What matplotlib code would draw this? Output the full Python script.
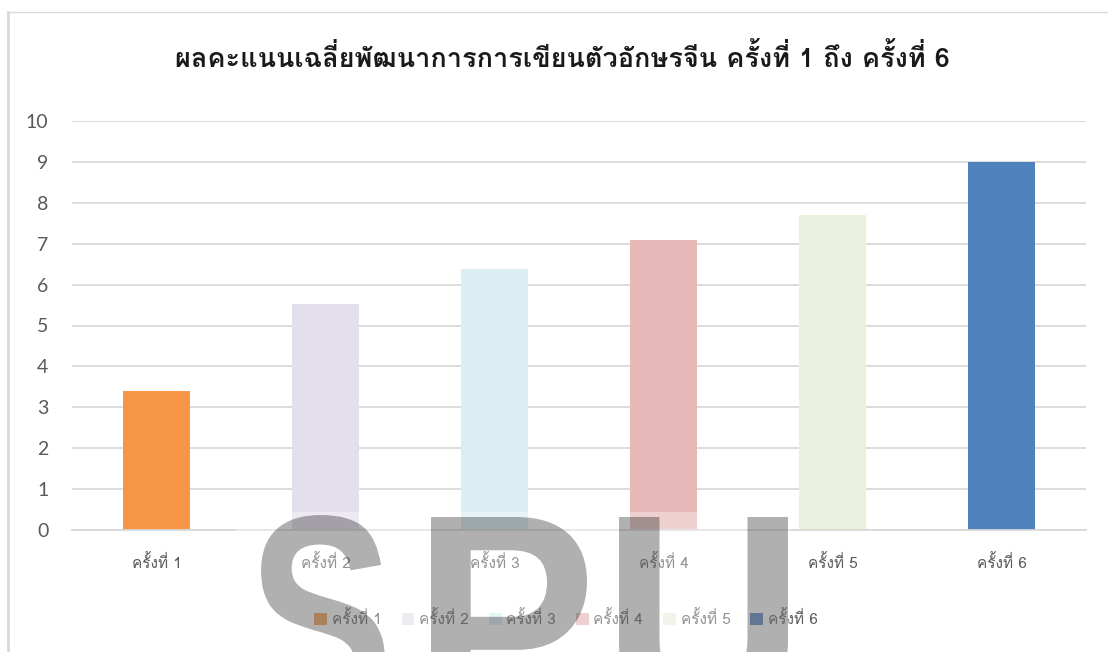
import matplotlib
matplotlib.use('Agg')
import matplotlib.pyplot as plt
from matplotlib.patches import Rectangle, PathPatch
from matplotlib.lines import Line2D
from matplotlib.textpath import TextPath
from matplotlib.font_manager import FontProperties
from matplotlib.transforms import Affine2D, IdentityTransform

title = 'ผลคะแนนเฉลี่ยพัฒนาการการเขียนตัวอักษรจีน ครั้งที่ 1 ถึง ครั้งที่ 6'
categories = ['ครั้งที่ 1', 'ครั้งที่ 2', 'ครั้งที่ 3', 'ครั้งที่ 4', 'ครั้งที่ 5', 'ครั้งที่ 6']
scores = [3.40, 5.53, 6.38, 7.09, 7.70, 9.00]
bar_colors = ['#f79646', '#e4dfec', '#daeef3', '#e6b8b7', '#ebf1de', '#4f81bd']
y_ticks = [0, 1, 2, 3, 4, 5, 6, 7, 8, 9, 10]
watermark = ['S', 'P', 'U']

W, H = 1108, 652
# watermark letter boxes in pixels (left, right, top) and common cap height
wm_boxes = [(254, 385, 515), (431, 587, 517), (619, 788, 517)]
wm_cap = 205

plt.rcParams['font.family'] = ['Loma', 'DejaVu Sans']

fig = plt.figure(figsize=(W / 100, H / 100), dpi=100)
ax = fig.add_axes([72 / W, 1 - 530 / H, (1086 - 72) / W, (530 - 121) / H])

for i, (cat, val, col) in enumerate(zip(categories, scores, bar_colors)):
    ax.bar(i, val, width=0.4, color=col, label=cat, zorder=2)

ax.set_xlim(-0.5, len(categories) - 0.5)
ax.set_ylim(0, 10)
ax.set_yticks(y_ticks)
ax.set_yticklabels([str(t) for t in y_ticks], family=['Lato', 'DejaVu Sans'],
                   fontsize=14, color='#595959')
ax.set_xticks(range(len(categories)))
ax.set_xticklabels(categories, fontsize=11, color='#595959')
ax.tick_params(axis='both', length=0)
ax.tick_params(axis='y', pad=17)
ax.tick_params(axis='x', pad=17)
ax.grid(axis='y', color='#d9d9d9', linewidth=1.3, zorder=0)
for s in ['top', 'right', 'left']:
    ax.spines[s].set_visible(False)
ax.spines['bottom'].set_color('#d9d9d9')
ax.spines['bottom'].set_linewidth(1.3)

fig.text(562 / W, 1 - 58 / H, title, ha='center', va='center',
         fontsize=19.5, fontweight='bold', color='#1a1a1a')

ax.legend(loc='center', bbox_to_anchor=(566 / W, 1 - 619 / H),
          bbox_transform=fig.transFigure, ncol=6, frameon=False,
          fontsize=11, labelcolor='#595959', handlelength=0.85,
          handleheight=0.85, handletextpad=0.3, columnspacing=1.3)

# chart area border
fig.add_artist(Line2D([8 / W, 8 / W], [0, 1 - 12 / H], transform=fig.transFigure,
                      color='#d9d9d9', linewidth=2))
fig.add_artist(Line2D([8 / W, 1], [1 - 12 / H, 1 - 12 / H], transform=fig.transFigure,
                      color='#d9d9d9', linewidth=1))

# watermark overlay (white veil + stretched grey letters)
fig.add_artist(Rectangle((236 / W, 0), (790 - 236) / W, (652 - 512) / H,
                         transform=fig.transFigure, facecolor='white',
                         edgecolor='none', alpha=0.35, zorder=5))
wm_prop = FontProperties(family='Liberation Sans', weight='bold')
for letter, (x0, x1, top) in zip(watermark, wm_boxes):
    path = TextPath((0, 0), letter, size=1, prop=wm_prop)
    ext = path.get_extents()
    tr = (Affine2D().translate(-ext.x0, -ext.y1)
          .scale((x1 - x0) / ext.width, wm_cap / ext.height)
          .translate(x0, H - top))
    fig.add_artist(PathPatch(tr.transform_path(path), transform=IdentityTransform(),
                             facecolor='black', edgecolor='none', alpha=0.31, zorder=6))

fig.savefig('out.png', dpi=100)
